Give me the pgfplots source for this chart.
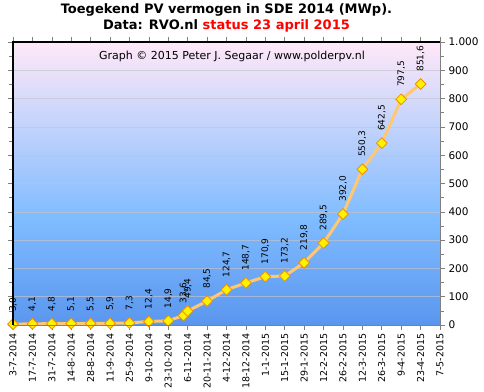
\documentclass[border=0pt]{standalone}
\usepackage{pgfplots}
\pgfplotsset{compat=1.18}
\usepackage{fontspec}
\setmainfont{DejaVu Sans}
\definecolor{bgtop}{HTML}{FFE8F8}
\definecolor{bgmid}{HTML}{80BCFF}
\definecolor{bgbot}{HTML}{5A96EE}
\definecolor{lineor}{HTML}{FFC870}
\definecolor{markedge}{HTML}{F09000}
\definecolor{gridc}{HTML}{C4C4CC}
\pgfdeclareverticalshading{bgshade}{100bp}{color(0bp)=(bgbot); color(25bp)=(bgbot); color(44bp)=(bgmid); color(75bp)=(bgtop); color(100bp)=(bgtop)}
\begin{document}
\begin{tikzpicture}
\begin{axis}[name=ax, width=427pt, height=283pt, scale only axis,
  xmin=0, xmax=22, ymin=0, ymax=1000, clip=false,
  axis line style={draw=none},
  axis background/.style={shading=bgshade},
  xtick={0,...,22},
  xticklabels={3-7-2014,17-7-2014,31-7-2014,14-8-2014,28-8-2014,11-9-2014,25-9-2014,9-10-2014,23-10-2014,6-11-2014,20-11-2014,4-12-2014,18-12-2014,1-1-2015,15-1-2015,29-1-2015,12-2-2015,26-2-2015,12-3-2015,26-3-2015,9-4-2015,23-4-2015,7-5-2015},
  x tick label style={rotate=90, anchor=east, font=\fontsize{9.5}{11}\selectfont},
  ytick={0,100,...,1000}, minor y tick num=1,
  yticklabel pos=right,
  y tick label style={font=\fontsize{10.5}{12}\selectfont},
  tick align=outside, major tick length=5pt, minor tick length=4pt,
  tick style={gray, line width=0.6pt},
  ymajorgrids, major grid style={gridc, opacity=0.65, line width=0.6pt},
  /pgf/number format/assume math mode=true,
  /pgf/number format/1000 sep={.},
  nodes near coords={\pgfmathprintnumber[fixed,fixed zerofill,precision=1,use comma]{\pgfplotspointmeta}},
  every node near coord/.append style={rotate=90, anchor=west, inner xsep=12pt, inner ysep=0pt, font=\fontsize{9}{10}\selectfont, text=black},
]
\addplot[color=lineor, line width=3pt, mark=square*, mark size=3.8pt,
  mark options={rotate=45, fill=yellow, draw=markedge, line width=0.8pt, solid}]
  coordinates {
  (0,3.0) (1,4.1) (2,4.8) (3,5.1) (4,5.5) (5,5.9) (6,7.3) (7,12.4) (8,14.9)
  (8.786,33.6) (9,49.4) (10,84.5) (11,124.7) (12,148.7) (13,170.9) (14,173.2)
  (15,219.8) (16,289.5) (17,392.0) (18,550.3) (19,642.5) (20,797.5) (21,851.6)
  };
\end{axis}
\draw[black, line width=1.2pt] (ax.south west) -- (ax.north west) -- (ax.north east);
\draw[gray, line width=0.6pt] (ax.north east) -- (ax.south east) -- (ax.south west);
\node[anchor=base, font=\bfseries\fontsize{13}{15}\selectfont] at ([yshift=28.7pt]ax.north) {Toegekend PV vermogen in SDE 2014 (MWp).};
\node[anchor=base, font=\bfseries\fontsize{13}{15}\selectfont] at ([yshift=12.7pt]ax.north) {Data: RVO.nl \textcolor{red}{status 23 april 2015}};
\node[anchor=base, font=\fontsize{11}{13}\selectfont] at ([xshift=5.5pt, yshift=-18pt]ax.north) {Graph © 2015 Peter J. Segaar / www.polderpv.nl};
\pgfresetboundingbox
\path[use as bounding box] ([shift={(-13pt,-66pt)}]ax.south west) rectangle ([shift={(44pt,42pt)}]ax.north east);
\end{tikzpicture}
\end{document}
